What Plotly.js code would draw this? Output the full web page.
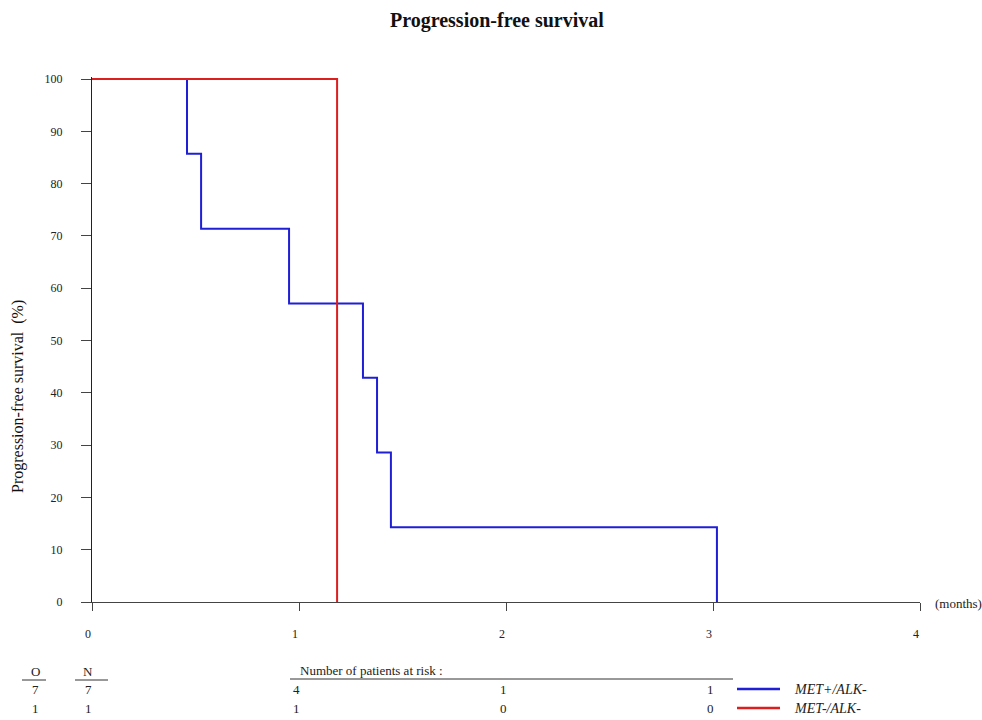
<!DOCTYPE html>
<html>
<head>
<meta charset="utf-8">
<script src="https://cdn.plot.ly/plotly-3.0.1.min.js"></script>
<style>html,body{margin:0;padding:0;background:#fff;}#chart{width:982px;height:720px;}</style>
</head>
<body>
<div id="chart"></div>
<script>
// Kaplan-Meier step data (months, % progression-free)
const groupNames = ["MET+/ALK-", "MET-/ALK-"];
const metPosTime = [0, 0.459, 0.527, 0.952, 1.309, 1.377, 1.444, 3.019];
const metPosSurv = [100, 85.7, 71.4, 57.1, 42.9, 28.6, 14.3, 0];
const metNegTime = [0, 1.184];
const metNegSurv = [100, 0];
const groupColors = ["#1f1fd6", "#dc1e1e"];

// Table values
const observed = [7, 1];
const totalN = [7, 1];
const atRiskTimes = [1, 2, 3];
const atRiskMetPos = [4, 1, 1];
const atRiskMetNeg = [1, 0, 0];

const xTicks = [0, 1, 2, 3, 4];
const yTicks = [0, 10, 20, 30, 40, 50, 60, 70, 80, 90, 100];

const FONT = "Liberation Serif, Times New Roman, serif";
const YMAX = 100.4;
const L = 92, R = 920, B = 602;
const PXU = 5.23;
const T = Math.round(B - YMAX * PXU);
const px = v => (v - L) / (R - L);
const py = v => (B - v) / (B - T);

const traces = [
  {x: metPosTime, y: metPosSurv, type: "scatter", mode: "lines", line: {shape: "hv", color: groupColors[0], width: 2}, name: groupNames[0], showlegend: false},
  {x: metNegTime, y: metNegSurv, type: "scatter", mode: "lines", line: {shape: "hv", color: groupColors[1], width: 2}, name: groupNames[1], showlegend: false}
];

const ann = [];
const shapes = [];
const txt = (x, y, text, opts) => Object.assign({xref: "paper", yref: "paper", x: px(x), y: py(y), text: text, showarrow: false, font: {family: FONT, size: 13, color: "#222"}, xanchor: "center", yanchor: "middle"}, opts || {});
const hline = (x0, x1, y, color, w) => ({type: "line", xref: "paper", yref: "paper", x0: px(x0), x1: px(x1), y0: py(y), y1: py(y), line: {color: color, width: w}});

ann.push(txt(18, 397, "Progression-free survival  (%)", {textangle: -90, font: {family: FONT, size: 16, color: "#111"}}));
ann.push(txt(933, 603, "(months)", {xanchor: "left"}));
// Header
ann.push(txt(35, 671, "O"));
ann.push(txt(88, 671, "N"));
ann.push(txt(298, 670, "Number of patients at risk :", {xanchor: "left"}));
shapes.push(hline(22, 46, 680, "#333", 1));
shapes.push(hline(75, 108, 680, "#333", 1));
shapes.push(hline(290, 733, 679, "#333", 1));

const rowY = [689, 708];
const atRisk = [atRiskMetPos, atRiskMetNeg];
for (let g = 0; g < 2; g++) {
  ann.push(txt(35, rowY[g], String(observed[g])));
  ann.push(txt(88, rowY[g], String(totalN[g])));
  for (let i = 0; i < atRiskTimes.length; i++) {
    ann.push({xref: "x", yref: "paper", x: atRiskTimes[i], y: py(rowY[g]), text: String(atRisk[g][i]), showarrow: false, font: {family: FONT, size: 13, color: "#222"}, xanchor: "center", yanchor: "middle", xshift: -3});
  }
  shapes.push(hline(737, 780, rowY[g], groupColors[g], 2.5));
  ann.push(txt(792, rowY[g], "<i>" + groupNames[g] + "</i>", {xanchor: "left", font: {family: FONT, size: 14, color: "#222"}}));
}

const layout = {
  width: 982, height: 720,
  margin: {l: L, r: 982 - R, t: T, b: 720 - B, pad: 0},
  paper_bgcolor: "#fff", plot_bgcolor: "#fff",
  title: {text: "<b>Progression-free survival</b>", font: {family: FONT, size: 20, color: "#111"}, xref: "container", x: 0.506, xanchor: "center", yref: "container", y: 1 - 20/720, yanchor: "middle"},
  xaxis: {range: [0, 4], tickvals: xTicks, ticktext: xTicks.map(String), showgrid: false, zeroline: false, showline: true, linecolor: "#444", linewidth: 1, ticks: "outside", ticklen: 8, tickcolor: "#444", tickfont: {family: FONT, size: 12, color: "#222"}, ticklabelstandoff: 13, ticklabelshift: -4, fixedrange: true},
  yaxis: {range: [0, YMAX], tickvals: yTicks, ticktext: yTicks.map(String), showgrid: false, zeroline: false, showline: true, linecolor: "#222", linewidth: 1, ticks: "outside", ticklen: 10, tickcolor: "#444", tickfont: {family: FONT, size: 12, color: "#222"}, ticklabelstandoff: 16, automargin: false, fixedrange: true},
  annotations: ann,
  shapes: shapes,
  showlegend: false
};

Plotly.newPlot("chart", traces, layout, {displayModeBar: false, staticPlot: true});
</script>
</body>
</html>
